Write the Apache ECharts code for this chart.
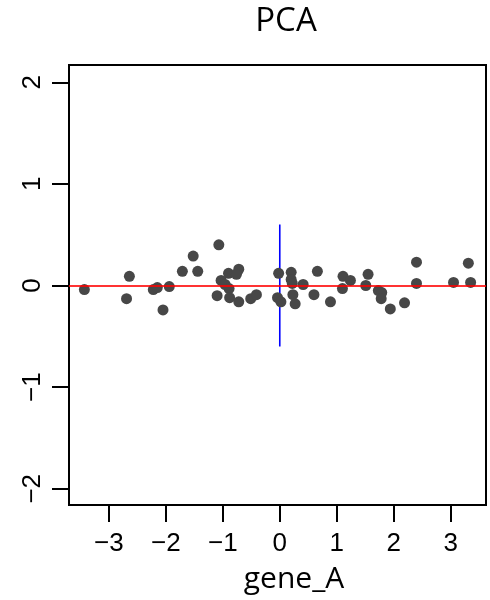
<!DOCTYPE html>
<html>
<head>
<meta charset="utf-8">
<script src="https://cdn.jsdelivr.net/npm/echarts@6/dist/echarts.min.js"></script>
<style>
  html, body { margin: 0; padding: 0; background: #fff; }
  #chart { width: 490px; height: 600px; }
</style>
</head>
<body>
<div id="chart"></div>
<script>
// point values
const geneA = [-3.43, -2.64, -2.69, -2.22, -2.15, -2.05, -1.94, -1.71, -1.52, -1.44,
  -1.07, -1.10, -1.03, -0.96, -0.90, -0.89, -0.88, -0.72, -0.76, -0.72,
  -0.51, -0.41, -0.02, -0.04, 0.02, 0.20, 0.20, 0.22, 0.23, 0.27,
  0.41, 0.66, 0.60, 0.89, 1.11, 1.24, 1.10, 1.51, 1.55, 1.73,
  1.79, 1.78, 1.94, 2.19, 2.40, 2.40, 3.05, 3.31, 3.35]
const pcVal = [-0.04, 0.09, -0.13, -0.04, -0.02, -0.24, -0.01, 0.14, 0.29, 0.14,
  0.40, -0.10, 0.05, 0.01, 0.12, -0.03, -0.12, 0.16, 0.11, -0.16,
  -0.13, -0.09, 0.12, -0.12, -0.16, 0.13, 0.06, 0.02, -0.09, -0.18,
  0.01, 0.14, -0.09, -0.16, 0.09, 0.05, -0.03, 0.00, 0.11, -0.05,
  -0.07, -0.13, -0.23, -0.17, 0.23, 0.02, 0.03, 0.22, 0.03]
const xTicks = [-3, -2, -1, 0, 1, 2, 3]
const yTicks = [-2, -1, 0, 1, 2]
const vSegment = [-0.6, 0.6]

const myChart = echarts.init(document.getElementById('chart'))
const tickFont = {
  color: '#000',
  fontFamily: 'Liberation Sans',
  fontSize: 26
}
const option = {
  animation: false,
  grid: {
    left: 69,
    right: 4,
    top: 65,
    bottom: 95,
    show: true,
    borderColor: '#000',
    borderWidth: 2
  },
  graphic: [
    {
      type: 'text', x: 286, y: 22,
      style: { text: 'PCA', fontFamily: 'Open Sans', fontSize: 33, fill: '#000', align: 'center', verticalAlign: 'middle' }
    },
    {
      type: 'text', x: 294, y: 579,
      style: { text: 'gene_A', fontFamily: 'Open Sans', fontSize: 30, fill: '#000', align: 'center', verticalAlign: 'middle' }
    }
  ],
  xAxis: {
    type: 'value',
    position: 'bottom',
    min: -3.70,
    max: 3.62,
    splitLine: { show: false },
    axisLine: { show: false, onZero: false },
    axisTick: {
      show: true,
      inside: false,
      customValues: xTicks,
      length: 17,
      lineStyle: { color: '#000', width: 2 }
    },
    axisLabel: Object.assign({
      customValues: xTicks,
      margin: 26,
      formatter: v => String(v).replace('-', '\u2212')
    }, tickFont)
  },
  yAxis: {
    type: 'value',
    position: 'left',
    min: -2.16,
    max: 2.17,
    splitLine: { show: false },
    axisLine: { show: false, onZero: false },
    axisTick: {
      show: true,
      inside: false,
      customValues: yTicks,
      length: 17,
      lineStyle: { color: '#000', width: 2 }
    },
    axisLabel: Object.assign({
      customValues: yTicks,
      rotate: 90,
      margin: 23,
      formatter: v => String(v).replace('-', '\u2212')
    }, tickFont)
  },
  series: [
    {
      type: 'line',
      data: vSegment.map(v => [0, v]),
      symbol: 'none',
      lineStyle: { color: '#0000ff', width: 1.6 },
      z: 1
    },
    {
      type: 'scatter',
      data: geneA.map((x, i) => [x, pcVal[i]]),
      symbolSize: 11,
      itemStyle: { color: '#474747', opacity: 1 },
      z: 3,
      markLine: {
        silent: true,
        symbol: 'none',
        label: { show: false },
        lineStyle: { color: 'rgba(255,0,0,0.8)', width: 2, type: 'solid' },
        data: [{ yAxis: 0 }]
      }
    }
  ]
}
myChart.setOption(option)
</script>
</body>
</html>
